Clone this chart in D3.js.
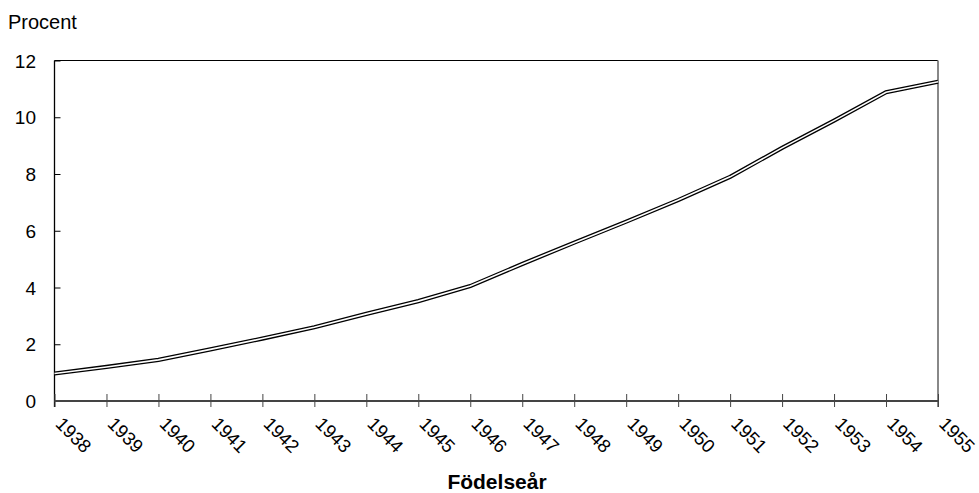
<!DOCTYPE html>
<html><head><meta charset="utf-8">
<script src="https://cdn.jsdelivr.net/npm/d3@7"></script>
<style>
body{margin:0;background:#fff;}
text{font-family:Arial,"Liberation Sans",sans-serif;fill:#000;}
</style></head>
<body><svg id="c" width="979" height="493"></svg>
<script>
const years = [1938,1939,1940,1941,1942,1943,1944,1945,1946,1947,1948,1949,1950,1951,1952,1953,1954,1955];
const values = [0.97,1.2,1.45,1.82,2.2,2.6,3.07,3.52,4.05,4.83,5.58,6.32,7.08,7.9,8.92,9.88,10.88,11.25];
const yTicks = [0,2,4,6,8,10,12];
const yLabel = "Procent";
const xLabel = "Födelseår";

const svg = d3.select("#c");
const L=54.5, R=938, T=60.5, B=401;
const x = d3.scaleLinear().domain([1938,1955]).range([L,R]);
const y = d3.scaleLinear().domain([0,12]).range([B,T]);

// top border
svg.append("line").attr("x1",L).attr("x2",R).attr("y1",T).attr("y2",T).attr("stroke","#000").attr("stroke-width",1);
// right border
svg.append("line").attr("x1",R).attr("x2",R).attr("y1",T).attr("y2",407).attr("stroke","#888").attr("stroke-width",2);

// y axis
const yAxis = d3.axisRight(y).tickValues(yTicks).tickSize(6).tickFormat("");
const gy = svg.append("g").attr("transform",`translate(${L},0)`).call(yAxis);
gy.select(".domain").remove();
gy.selectAll(".tick line").attr("stroke","#000");
svg.append("line").attr("x1",L).attr("x2",L).attr("y1",T).attr("y2",407).attr("stroke","#000").attr("stroke-width",1.3);
svg.selectAll(".ylab").data(yTicks).enter().append("text")
  .attr("x",36).attr("y",d=>y(d)+7).attr("text-anchor","end").style("font-size","19px").text(d=>d);

// x axis
const xAxis = d3.axisBottom(x).tickValues(years).tickSize(6).tickFormat("");
const gx = svg.append("g").attr("transform",`translate(0,${B})`).call(xAxis);
gx.select(".domain").remove();
gx.selectAll(".tick line").attr("stroke","#444").attr("y1",-7).attr("y2",6);
svg.append("line").attr("x1",L).attr("x2",R).attr("y1",B).attr("y2",B).attr("stroke","#444").attr("stroke-width",2);
svg.selectAll(".xlab").data(years).enter().append("text")
  .attr("transform",d=>`translate(${x(d)},${425}) rotate(45)`)
  .style("font-size","18.5px").text(d=>d);

// line (double style)
const line = d3.line().x((d,i)=>x(years[i])).y(d=>y(d));
svg.append("path").datum(values).attr("d",line).attr("fill","none").attr("stroke","#000").attr("stroke-width",4.2).attr("stroke-linejoin","miter");
svg.append("path").datum(values).attr("d",line).attr("fill","none").attr("stroke","#fff").attr("stroke-width",1.6).attr("stroke-linejoin","miter");

svg.append("text").attr("x",8).attr("y",29).style("font-size","20px").text(yLabel);
svg.append("text").attr("x",497).attr("y",489).attr("text-anchor","middle").style("font-size","21px").style("font-weight","bold").text(xLabel);
</script></body></html>
